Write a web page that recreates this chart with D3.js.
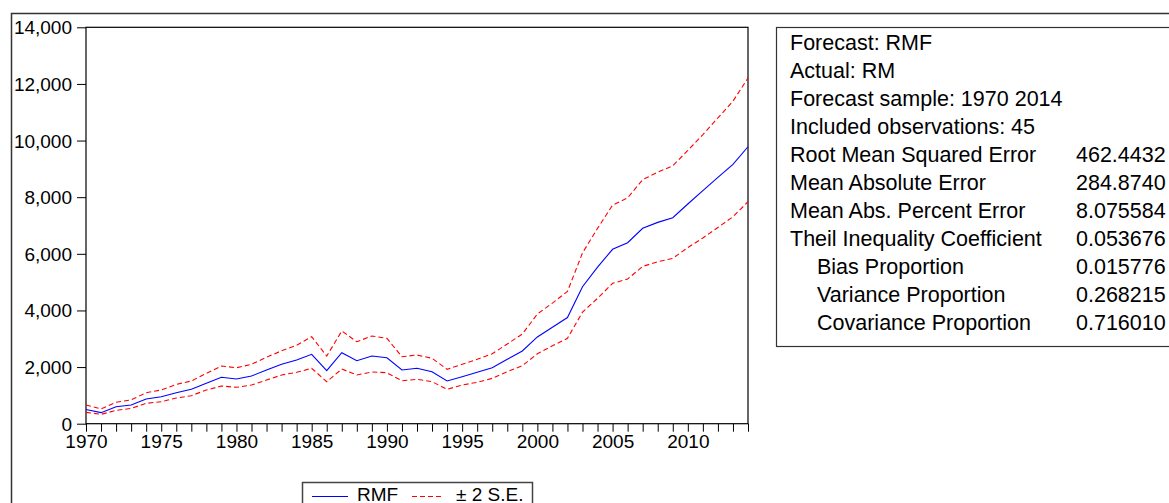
<!DOCTYPE html>
<html>
<head>
<meta charset="utf-8">
<script src="https://cdn.jsdelivr.net/npm/d3@7"></script>
<style>
  html, body { margin: 0; padding: 0; background: #fff; }
  svg { display: block; }
  text { font-family: "Liberation Sans", Arial, sans-serif; fill: #000; }
</style>
</head>
<body>
<svg id="chart" width="1169" height="503"></svg>
<script>
const years = d3.range(1970, 2015);
const rmf = [500, 390, 600, 660, 870, 950, 1095, 1215, 1427, 1638,
  1578, 1684, 1896, 2097, 2249, 2450, 1871, 2507, 2224, 2390,
  2330, 1896, 1956, 1837, 1508, 1660, 1815, 1978, 2274, 2567,
  3065, 3404, 3750, 4838, 5530, 6160, 6391, 6900, 7110, 7274,
  7760, 8230, 8700, 9160, 9781];
const upper = [660, 520, 755, 840, 1095, 1190, 1390, 1508, 1780, 2037,
  1977, 2097, 2345, 2578, 2768, 3072, 2390, 3273, 2895, 3097,
  3015, 2366, 2426, 2309, 1921, 2097, 2274, 2472, 2814, 3167,
  3874, 4260, 4670, 6030, 6900, 7720, 7975, 8620, 8880, 9110,
  9650, 10210, 10800, 11390, 12210];
const lower = [400, 330, 470, 540, 720, 777, 907, 990, 1190, 1331,
  1285, 1366, 1543, 1720, 1815, 1956, 1483, 1931, 1720, 1826,
  1800, 1518, 1568, 1483, 1215, 1366, 1462, 1603, 1837, 2048,
  2470, 2750, 3015, 3940, 4428, 4958, 5109, 5555, 5720, 5840,
  6220, 6560, 6930, 7310, 7839];
const yTicks = [0, 2000, 4000, 6000, 8000, 10000, 12000, 14000];
const xLabelYears = [1970, 1975, 1980, 1985, 1990, 1995, 2000, 2005, 2010];

const statLabels = ["Forecast: RMF", "Actual: RM", "Forecast sample: 1970 2014",
  "Included observations: 45", "Root Mean Squared Error", "Mean Absolute Error",
  "Mean Abs. Percent Error", "Theil Inequality Coefficient", "Bias Proportion",
  "Variance Proportion", "Covariance Proportion"];
const statValues = ["", "", "", "", "462.4432", "284.8740", "8.075584",
  "0.053676", "0.015776", "0.268215", "0.716010"];
const statIndent = [false, false, false, false, false, false, false, false, true, true, true];

const legendLabels = ["RMF", "± 2 S.E."];

const svg = d3.select("#chart");

// Outer frame
svg.append("path")
  .attr("d", "M11.5,503 L11.5,13.5 L1169,13.5")
  .attr("fill", "none").attr("stroke", "#333").attr("stroke-width", 1.5);

const L = 86, R = 748, T = 27.3, B = 423.7;
const x = d3.scaleLinear().domain([1970, 2014]).range([L, R]);
const y = d3.scaleLinear().domain([0, 14000]).range([B, T]);

// Y axis
const yAxis = svg.append("g").attr("transform", `translate(${L},0)`)
  .call(d3.axisLeft(y).tickValues(yTicks).tickSize(9).tickPadding(5).tickFormat(d3.format(",")));
yAxis.select(".domain").remove();
yAxis.selectAll("text").attr("font-size", 19).attr("font-family", "Liberation Sans, Arial, sans-serif").attr("fill", "#000").attr("dy", "0.34em");
yAxis.selectAll("line").attr("stroke", "#000");

// X axis
const xAxis = svg.append("g").attr("transform", `translate(0,${B})`)
  .call(d3.axisBottom(x).tickValues(years).tickSize(8).tickPadding(3)
    .tickFormat(d => xLabelYears.includes(d) ? String(d) : ""));
xAxis.select(".domain").remove();
xAxis.selectAll("text").attr("font-size", 19).attr("font-family", "Liberation Sans, Arial, sans-serif").attr("fill", "#000");
xAxis.selectAll("line").attr("stroke", "#000");

// Plot frame
svg.append("rect").attr("x", L).attr("y", T).attr("width", R - L).attr("height", B - T)
  .attr("fill", "none").attr("stroke", "#000").attr("stroke-width", 1.2);

const line = arr => d3.line().x((d, i) => x(years[i])).y(d => y(d))(arr);

svg.append("path").attr("d", line(upper)).attr("fill", "none")
  .attr("stroke", "#ff0000").attr("stroke-width", 1.1).attr("stroke-dasharray", "5,3");
svg.append("path").attr("d", line(lower)).attr("fill", "none")
  .attr("stroke", "#ff0000").attr("stroke-width", 1.1).attr("stroke-dasharray", "5,3");
svg.append("path").attr("d", line(rmf)).attr("fill", "none")
  .attr("stroke", "#0000ff").attr("stroke-width", 1.1);

// Stats box
svg.append("rect").attr("x", 776.5).attr("y", 27.5).attr("width", 420).attr("height", 319)
  .attr("fill", "none").attr("stroke", "#333").attr("stroke-width", 1.2);
const sg = svg.append("g");
statLabels.forEach((s, i) => {
  const by = 50 + i * 28;
  sg.append("text").attr("x", statIndent[i] ? 817 : 790).attr("y", by)
    .attr("font-size", 21.5).text(s);
  if (statValues[i]) {
    sg.append("text").attr("x", 1076).attr("y", by).attr("font-size", 21.5).text(statValues[i]);
  }
});

// Legend
svg.append("rect").attr("x", 302.5).attr("y", 482.5).attr("width", 230).attr("height", 40)
  .attr("fill", "none").attr("stroke", "#444").attr("stroke-width", 1.5);
svg.append("line").attr("x1", 312).attr("x2", 348).attr("y1", 496.5).attr("y2", 496.5)
  .attr("stroke", "#0000ff").attr("stroke-width", 1.1);
svg.append("text").attr("x", 357).attr("y", 501).attr("font-size", 19).text(legendLabels[0]);
svg.append("line").attr("x1", 412).attr("x2", 444).attr("y1", 496.5).attr("y2", 496.5)
  .attr("stroke", "#ff0000").attr("stroke-width", 1.1).attr("stroke-dasharray", "5,3");
svg.append("text").attr("x", 456).attr("y", 501).attr("font-size", 19).text(legendLabels[1]);
</script>
</body>
</html>
